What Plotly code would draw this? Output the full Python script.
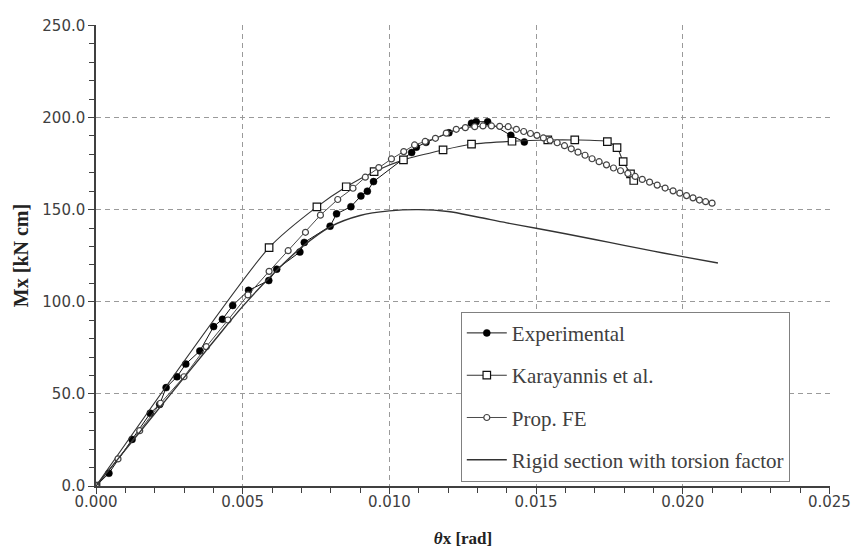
import plotly.graph_objects as go

# ---------------- data ----------------
exp_x = [0.0, 0.00044, 0.00123, 0.00185, 0.00217, 0.00239, 0.00276, 0.00306, 0.00354,
         0.00401, 0.00431, 0.00466, 0.00520, 0.00589, 0.00616, 0.00695, 0.00710, 0.00798,
         0.00820, 0.00869, 0.00903, 0.00925, 0.00946, 0.01076, 0.01092, 0.01125, 0.01203,
         0.01280, 0.01296, 0.01335, 0.01414, 0.01460]
exp_y = [0.0, 6.9, 25.3, 39.5, 44.3, 53.4, 59.3, 66.2, 73.3,
         86.5, 90.5, 98.0, 106.2, 111.5, 117.7, 127.0, 132.2, 141.0,
         147.7, 151.6, 157.4, 160.0, 165.2, 181.0, 183.9, 186.5, 191.7,
         196.9, 197.7, 197.7, 190.3, 186.7]

kar_x = [0.0, 0.00590, 0.00753, 0.00853, 0.00948, 0.01048, 0.01183, 0.01280, 0.01418,
         0.01540, 0.01632, 0.01743, 0.01776, 0.01797, 0.01822, 0.01833]
kar_y = [0.0, 129.4, 151.5, 162.4, 170.6, 177.0, 182.4, 185.5, 187.1,
         187.8, 187.8, 186.9, 183.7, 176.1, 169.4, 165.8]

fe_x = [0.0, 0.00075, 0.00149, 0.00220, 0.00300, 0.00376, 0.00450, 0.00518, 0.00590,
        0.00655, 0.00714, 0.00765, 0.00824, 0.00876, 0.00918, 0.00964, 0.01007, 0.01049,
        0.01086, 0.01122, 0.01157, 0.01194, 0.01228, 0.01259, 0.01291, 0.01319, 0.01348,
        0.01376, 0.01405, 0.01433, 0.01458, 0.01481, 0.01503, 0.01525, 0.01548, 0.01572,
        0.01597, 0.01620, 0.01643, 0.01667, 0.01691, 0.01715, 0.01740, 0.01764, 0.01788,
        0.01813, 0.01838, 0.01862, 0.01887, 0.01913, 0.01940, 0.01967, 0.01990, 0.02013,
        0.02035, 0.02057, 0.02078, 0.02100]
fe_y = [0.0, 14.7, 30.0, 44.9, 59.3, 75.6, 90.1, 103.7, 116.5,
        127.7, 137.7, 147.0, 155.5, 161.6, 167.6, 172.8, 177.5, 181.5,
        185.1, 187.0, 188.7, 191.5, 193.6, 194.5, 195.0, 195.4, 195.4,
        195.2, 195.0, 193.6, 192.4, 191.3, 190.3, 188.9, 187.6, 186.3,
        184.7, 183.0, 181.2, 179.5, 177.6, 176.0, 174.3, 172.6, 171.1,
        169.6, 168.0, 166.4, 164.9, 163.3, 161.7, 160.2, 158.9, 157.6,
        156.4, 155.2, 154.3, 153.5]

rig_x = [0.0, 0.001, 0.002, 0.003, 0.004, 0.005, 0.006, 0.007, 0.008, 0.009, 0.010,
         0.011, 0.012, 0.013, 0.014, 0.015, 0.016, 0.017, 0.018, 0.019, 0.020, 0.0212]
rig_y = [0.0, 19.6, 39.2, 58.8, 78.3, 97.5, 114.5, 129.5, 140.8, 146.8, 149.3,
         150.0, 149.0, 146.0, 142.8, 139.9, 136.9, 133.8, 130.6, 127.5, 124.5, 121.0]

names = ["Experimental", "Karayannis et al.", "Prop. FE", "Rigid section with torsion factor"]
x_ticks = [0.0, 0.005, 0.010, 0.015, 0.020, 0.025]
y_ticks = [0.0, 50.0, 100.0, 150.0, 200.0, 250.0]

# ---------------- figure ----------------
fig = go.Figure()

fig.add_trace(go.Scatter(
    x=exp_x, y=exp_y, name=names[0], mode="lines+markers", legendgroup="a",
    line=dict(color="#111111", width=1),
    marker=dict(symbol="circle", size=7, color="#000000", line=dict(color="#000000", width=0.5))))

fig.add_trace(go.Scatter(
    x=kar_x, y=kar_y, name=names[1], mode="lines+markers", legendgroup="b",
    line=dict(color="#333333", width=1.1, shape="spline", smoothing=0.6),
    marker=dict(symbol="square", size=7.5, color="#ffffff", line=dict(color="#111111", width=1.2))))

fig.add_trace(go.Scatter(
    x=fe_x, y=fe_y, name=names[2], mode="lines+markers", legendgroup="c",
    line=dict(color="#4a4a4a", width=1),
    marker=dict(symbol="circle", size=6, color="#ffffff", line=dict(color="#444444", width=1.2))))

fig.add_trace(go.Scatter(
    x=rig_x, y=rig_y, name=names[3], mode="lines", legendgroup="d",
    line=dict(color="#333333", width=1.4, shape="spline", smoothing=1.0)))

axis_common = dict(
    showline=True, linecolor="#404040", linewidth=1.5, automargin=False,
    showgrid=True, gridcolor="#9a9a9a", griddash="5px,4px", gridwidth=1,
    zeroline=False, ticks="outside", ticklen=6, tickcolor="#404040", tickwidth=1.2,
    tickfont=dict(family="DejaVu Sans", size=15, color="#404040"),
)

fig.update_xaxes(
    range=[0, 0.02502], tickvals=x_ticks, tickformat=".3f", ticklabelstandoff=-5,
    minor=dict(dtick=0.001, ticks="outside", ticklen=5, tickcolor="#404040", showgrid=False),
    title=dict(text="<b><i>θ</i>x [rad]</b>", font=dict(family="Liberation Serif", size=17, color="#222222"),
               standoff=22),
    **axis_common)

fig.update_yaxes(
    range=[0, 250.2], tickvals=y_ticks, tickformat=".1f",
    minor=dict(dtick=10, ticks="outside", ticklen=5, tickcolor="#404040", showgrid=False),
    title=dict(text="<b>Mx [kN cm]</b>", font=dict(family="Liberation Serif", size=20, color="#222222"),
               standoff=8),
    **axis_common)

fig.update_layout(
    width=851, height=551,
    margin=dict(l=96, r=21, t=25, b=65),
    paper_bgcolor="white", plot_bgcolor="white",
    showlegend=True,
    legend=dict(
        x=0.497, y=0.378, xanchor="left", yanchor="top",
        bgcolor="white", bordercolor="#808080", borderwidth=1,
        font=dict(family="Liberation Serif", size=21, color="#404040"),
        traceorder="grouped", tracegroupgap=12, itemwidth=40,
    ),
)

fig.write_html("out.html")
